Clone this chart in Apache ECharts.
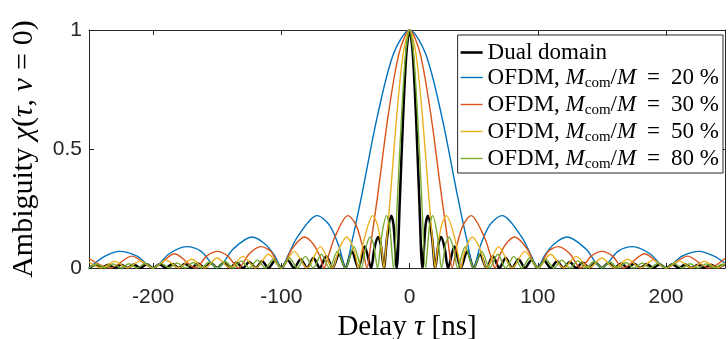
<!DOCTYPE html>
<html>
<head>
<meta charset="utf-8">
<script src="https://cdn.jsdelivr.net/npm/echarts@6/dist/echarts.min.js"></script>
<style>
  html, body { margin: 0; padding: 0; background: #fff; }
  #chart { width: 728px; height: 339px; }
</style>
</head>
<body>
<div id="chart"></div>
<script>
// values: [delay ns, ambiguity]
const xTicks = [-200, -100, 0, 100, 200];
const yTicks = [0, 0.5, 1];

const dualDomain = [
  [-250, 0], [-246, 0.012], [-245, 0.013], [-240, 0], [-235, 0.014], [-230, 0], [-225, 0.014], [-220, 0],
  [-215, 0.015], [-210, 0], [-205, 0.016], [-200, 0], [-195, 0.016], [-190, 0], [-185, 0.017], [-180, 0],
  [-175, 0.018], [-170, 0], [-165, 0.019], [-160, 0], [-155, 0.021], [-150, 0], [-145, 0.022], [-140, 0],
  [-135, 0.023], [-130, 0], [-125, 0.025], [-120, 0], [-115, 0.028], [-110, 0], [-105, 0.03], [-100, 0],
  [-95, 0.033], [-90, 0], [-85, 0.037], [-80, 0], [-75, 0.042], [-70, 0], [-65, 0.049], [-60, 0],
  [-55, 0.058], [-50, 0], [-45, 0.07], [-40, 0], [-35, 0.09], [-30, 0], [-27.5, 0.08], [-24.6, 0.13],
  [-22.5, 0.1], [-20, 0], [-17.5, 0.13], [-14.3, 0.22], [-12.5, 0.18], [-10, 0], [-7.5, 0.3], [-5, 0.64],
  [-2.5, 0.9], [0, 1], [2.5, 0.9], [5, 0.64], [7.5, 0.3], [10, 0], [12.5, 0.18], [14.3, 0.22],
  [17.5, 0.13], [20, 0], [22.5, 0.1], [24.6, 0.13], [27.5, 0.08], [30, 0], [35, 0.09], [40, 0],
  [45, 0.07], [50, 0], [55, 0.058], [60, 0], [65, 0.049], [70, 0], [75, 0.042], [80, 0],
  [85, 0.037], [90, 0], [95, 0.033], [100, 0], [105, 0.03], [110, 0], [115, 0.028], [120, 0],
  [125, 0.025], [130, 0], [135, 0.023], [140, 0], [145, 0.022], [150, 0], [155, 0.021], [160, 0],
  [165, 0.019], [170, 0], [175, 0.018], [180, 0], [185, 0.017], [190, 0], [195, 0.016], [200, 0],
  [205, 0.016], [210, 0], [215, 0.015], [220, 0], [225, 0.014], [230, 0], [235, 0.014], [240, 0],
  [245, 0.013], [246, 0.012]
];

const ofdm20 = [
  [-250, 0], [-237.5, 0.05], [-226, 0.07], [-212.5, 0.05], [-200, 0], [-187.5, 0.06], [-174, 0.09],
  [-162.5, 0.07], [-150, 0], [-137.5, 0.08], [-123, 0.13], [-112.5, 0.1], [-105, 0.05], [-100, 0],
  [-95, 0.05], [-87.5, 0.13], [-72, 0.22], [-62.5, 0.18], [-55, 0.09], [-50, 0], [-45, 0.11],
  [-37.5, 0.3], [-25, 0.64], [-12.5, 0.9], [0, 1], [12.5, 0.9], [25, 0.64], [37.5, 0.3], [45, 0.11],
  [50, 0], [55, 0.09], [62.5, 0.18], [72, 0.22], [87.5, 0.13], [95, 0.05], [100, 0], [105, 0.05],
  [112.5, 0.1], [123, 0.13], [137.5, 0.08], [150, 0], [162.5, 0.07], [174, 0.09], [187.5, 0.06],
  [200, 0], [212.5, 0.05], [226, 0.07], [237.5, 0.05], [246, 0.02]
];

const ofdm30 = [
  [-250, 0.04], [-233.3, 0], [-216.7, 0.05], [-200, 0], [-183.3, 0.06], [-166.7, 0], [-158.3, 0.05],
  [-150, 0.07], [-141.7, 0.05], [-133.3, 0], [-125, 0.06], [-116, 0.09], [-108.3, 0.07], [-100, 0],
  [-91.7, 0.08], [-82, 0.13], [-75, 0.1], [-70, 0.05], [-66.7, 0], [-63.3, 0.05], [-58.3, 0.13],
  [-48, 0.22], [-41.7, 0.18], [-36.7, 0.09], [-33.3, 0], [-30, 0.11], [-25, 0.3], [-16.7, 0.64],
  [-8.3, 0.9], [0, 1], [8.3, 0.9], [16.7, 0.64], [25, 0.3], [30, 0.11], [33.3, 0], [36.7, 0.09],
  [41.7, 0.18], [48, 0.22], [58.3, 0.13], [63.3, 0.05], [66.7, 0], [70, 0.05], [75, 0.1], [82, 0.13],
  [91.7, 0.08], [100, 0], [108.3, 0.07], [116, 0.09], [125, 0.06], [133.3, 0], [141.7, 0.05],
  [150, 0.07], [158.3, 0.05], [166.7, 0], [183.3, 0.06], [200, 0], [216.7, 0.05], [233.3, 0], [246, 0.04]
];

const ofdm50 = [
  [-250, 0.025], [-240, 0], [-230, 0.028], [-220, 0], [-210, 0.03], [-200, 0], [-190, 0.033], [-180, 0],
  [-170, 0.037], [-160, 0], [-150, 0.042], [-140, 0], [-130, 0.049], [-120, 0], [-110, 0.058], [-100, 0],
  [-90, 0.07], [-80, 0], [-69.5, 0.09], [-60, 0], [-55, 0.08], [-49, 0.13], [-45, 0.1], [-42, 0.05],
  [-40, 0], [-38, 0.05], [-35, 0.13], [-28.7, 0.22], [-25, 0.18], [-22, 0.09], [-20, 0], [-18, 0.11],
  [-15, 0.3], [-10, 0.64], [-5, 0.9], [0, 1], [5, 0.9], [10, 0.64], [15, 0.3], [18, 0.11], [20, 0],
  [22, 0.09], [25, 0.18], [28.7, 0.22], [35, 0.13], [38, 0.05], [40, 0], [42, 0.05], [45, 0.1],
  [49, 0.13], [55, 0.08], [60, 0], [69.5, 0.09], [80, 0], [90, 0.07], [100, 0], [110, 0.058], [120, 0],
  [130, 0.049], [140, 0], [150, 0.042], [160, 0], [170, 0.037], [180, 0], [190, 0.033], [200, 0],
  [210, 0.03], [220, 0], [230, 0.028], [240, 0], [246, 0.02]
];

const ofdm80 = [
  [-250, 0], [-243.8, 0.016], [-237.5, 0], [-231.3, 0.017], [-225, 0], [-218.8, 0.018], [-212.5, 0],
  [-206.3, 0.019], [-200, 0], [-193.8, 0.02], [-187.5, 0], [-181.3, 0.021], [-175, 0], [-168.8, 0.023],
  [-162.5, 0], [-156.3, 0.025], [-150, 0], [-143.8, 0.027], [-137.5, 0], [-131.3, 0.03], [-125, 0],
  [-118.8, 0.033], [-112.5, 0], [-106.3, 0.037], [-100, 0], [-93.8, 0.042], [-87.5, 0], [-81.3, 0.049],
  [-75, 0], [-68.8, 0.058], [-62.5, 0], [-56.3, 0.07], [-50, 0], [-43.4, 0.09], [-37.5, 0],
  [-34.4, 0.08], [-30.8, 0.13], [-28.1, 0.1], [-25, 0], [-21.9, 0.13], [-18, 0.22], [-15.6, 0.18],
  [-12.5, 0], [-9.4, 0.3], [-6.25, 0.64], [-3.1, 0.9], [0, 1], [3.1, 0.9], [6.25, 0.64], [9.4, 0.3],
  [12.5, 0], [15.6, 0.18], [18, 0.22], [21.9, 0.13], [25, 0], [28.1, 0.1], [30.8, 0.13], [34.4, 0.08],
  [37.5, 0], [43.4, 0.09], [50, 0], [56.3, 0.07], [62.5, 0], [68.8, 0.058], [75, 0], [81.3, 0.049],
  [87.5, 0], [93.8, 0.042], [100, 0], [106.3, 0.037], [112.5, 0], [118.8, 0.033], [125, 0],
  [131.3, 0.03], [137.5, 0], [143.8, 0.027], [150, 0], [156.3, 0.025], [162.5, 0], [168.8, 0.023],
  [175, 0], [181.3, 0.021], [187.5, 0], [193.8, 0.02], [200, 0], [206.3, 0.019], [212.5, 0],
  [218.8, 0.018], [225, 0], [231.3, 0.017], [237.5, 0], [243.8, 0.016], [246, 0.012]
];

const seriesNames = ['Dual domain', 'OFDM 20', 'OFDM 30', 'OFDM 50', 'OFDM 80'];
const ratios = ['', '20', '30', '50', '80'];
const colors = ['#000000', '#0072BD', '#D95319', '#EDB120', '#77AC30'];
const widths = [2.5, 1.4, 1.4, 1.4, 1.4];
const seriesData = [dualDomain, ofdm20, ofdm30, ofdm50, ofdm80];

const serif = '"Liberation Serif", "DejaVu Serif", serif';
const sans = '"Liberation Sans", Arial, sans-serif';
const axisColor = '#262626';

const chart = echarts.init(document.getElementById('chart'));

const mathRich = (size, gap) => ({
  r: { fontFamily: serif, fontSize: size, lineHeight: size, color: '#000' },
  i: { fontFamily: serif, fontSize: size, lineHeight: size, fontStyle: 'italic', color: '#000' },
  e: { fontFamily: serif, fontSize: size, lineHeight: size, color: '#000', padding: [0, gap] }
});

const boxTick = { show: true, inside: true, length: 5, lineStyle: { color: axisColor } };
const boxLine = { show: true, onZero: false, lineStyle: { color: axisColor, width: 1 } };

const option = {
  backgroundColor: '#fff',
  animation: false,
  grid: { left: 89, right: 3, top: 30, bottom: 71, containLabel: false, outerBoundsMode: 'none' },
  legend: {
    orient: 'vertical',
    top: 35,
    right: 5,
    padding: [6, 4, 1, 3],
    itemGap: 0,
    itemWidth: 22,
    itemHeight: 14,
    borderColor: axisColor,
    borderWidth: 1,
    backgroundColor: '#fff',
    data: seriesNames.map((n, k) => ({
      name: n,
      icon: k === 0 ? 'path://M0,0H22V2.6H0Z' : 'path://M0,0H22V1.4H0Z'
    })),
    formatter: (name) => {
      const k = seriesNames.indexOf(name);
      if (k === 0) return '{r|Dual domain}';
      return '{r|OFDM, }{i|M}{s|com}{r|/}{i|M}{e|=}{r|' + ratios[k] + ' %}';
    },
    textStyle: {
      rich: {
        r: { fontFamily: serif, fontSize: 23, lineHeight: 26, color: '#000' },
        i: { fontFamily: serif, fontSize: 23, lineHeight: 26, fontStyle: 'italic', color: '#000' },
        s: { fontFamily: serif, fontSize: 15, lineHeight: 14, padding: [12, 0, 0, 0], color: '#000' },
        e: { fontFamily: serif, fontSize: 23, lineHeight: 26, padding: [0, 11], color: '#000' }
      }
    }
  },
  xAxis: [
    {
      type: 'value', min: -250, max: 246, position: 'bottom',
      axisLine: boxLine,
      axisTick: Object.assign({ customValues: xTicks }, boxTick),
      axisLabel: { customValues: xTicks, fontFamily: sans, fontSize: 21, color: axisColor, margin: 19 },
      splitLine: { show: false },
      name: '{r|Delay }{i|τ}{r| [ns]}',
      nameLocation: 'middle',
      nameGap: 41,
      nameTextStyle: { rich: mathRich(29, 0) }
    },
    {
      type: 'value', min: -250, max: 246, position: 'top',
      axisLine: boxLine,
      axisTick: Object.assign({ customValues: xTicks }, boxTick),
      axisLabel: { show: false },
      splitLine: { show: false }
    }
  ],
  yAxis: [
    {
      type: 'value', min: 0, max: 1, position: 'left',
      axisLine: boxLine,
      axisTick: Object.assign({ customValues: yTicks }, boxTick),
      axisLabel: { customValues: yTicks, fontFamily: sans, fontSize: 21, color: axisColor, margin: 7 },
      splitLine: { show: false },
      name: '{r|Ambiguity }{i|χ}{r|(}{i|τ}{r|, }{i|ν}{e|=}{r|0)}',
      nameLocation: 'middle',
      nameGap: 50,
      nameTextStyle: { rich: mathRich(30, 8) }
    },
    {
      type: 'value', min: 0, max: 1, position: 'right',
      axisLine: boxLine,
      axisTick: Object.assign({ customValues: yTicks }, boxTick),
      axisLabel: { show: false },
      splitLine: { show: false }
    }
  ],
  series: seriesData.map((d, k) => ({
    name: seriesNames[k],
    type: 'line',
    data: d,
    xAxisIndex: 0,
    yAxisIndex: 0,
    symbol: 'none',
    showSymbol: false,
    smooth: 0.3,
    clip: true,
    lineStyle: { color: colors[k], width: widths[k] },
    itemStyle: { color: colors[k] }
  }))
};

chart.setOption(option);
</script>
</body>
</html>
